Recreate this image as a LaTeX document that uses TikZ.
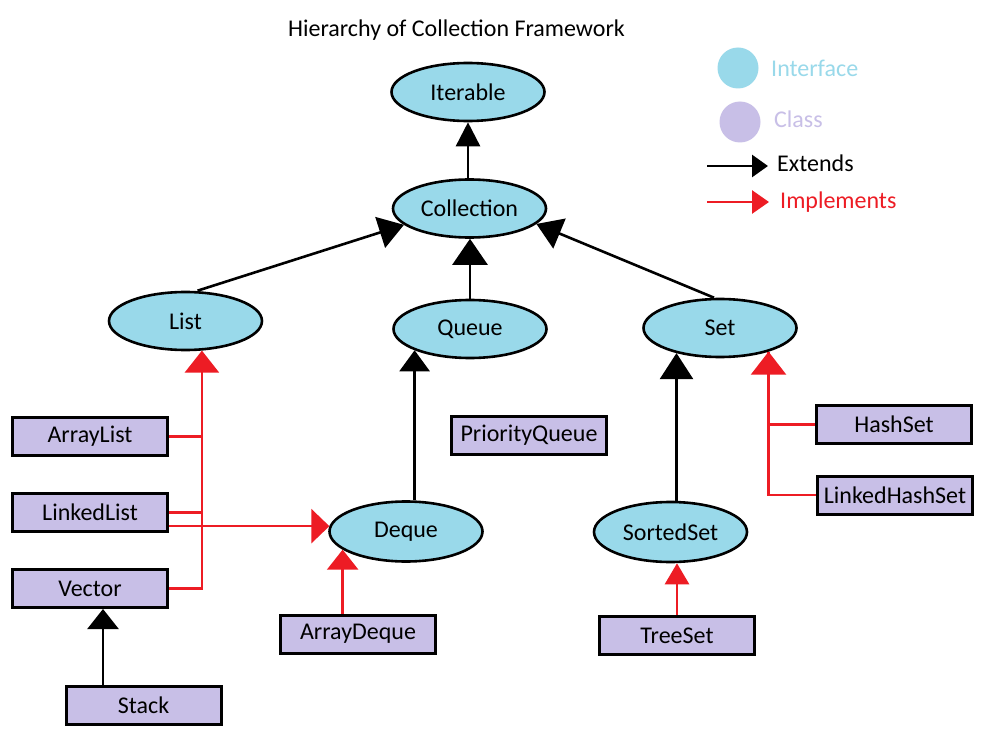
\documentclass[tikz,border=0pt]{standalone}
\usepackage{fontspec}
\setmainfont{Carlito}
\usetikzlibrary{shapes.geometric,arrows.meta,calc}
\definecolor{ifc}{HTML}{99D9EA}
\definecolor{cls}{HTML}{C8BFE7}
\definecolor{impred}{HTML}{ED1C24}
\begin{document}
\begin{tikzpicture}[x=1pt,y=-1pt, font=\fontsize{24}{28}\selectfont,
 iface/.style={ellipse, draw=black, line width=2.6pt, fill=ifc, minimum width=153pt, minimum height=58pt, inner sep=0pt},
 klass/.style={rectangle, draw=black, line width=3pt, fill=cls, minimum width=155pt, minimum height=38pt, inner sep=0pt},
 ext/.style={draw=black, line width=2.6pt, -{Triangle[length=22pt,width=32pt]}},
 imp/.style={draw=impred, line width=2.6pt, -{Triangle[length=22pt,width=32pt]}},
 impline/.style={draw=impred, line width=2.6pt},
 lgtext/.style={anchor=base west, inner sep=0pt},
]
\useasboundingbox (0,0) rectangle (1002,749);
\fill[white] (0,0) rectangle (1002,749);

% title
\node[anchor=base, inner sep=0pt] (title) at (456.5,37) {Hierarchy of Collection Framework};

% interfaces
\node[iface] (Iterable) at (468,92) {Iterable};
\node[iface] (Collection) at (469.5,208.5) {Collection};
\node[iface] (List) at (185.5,321) {List};
\node[iface] (Queue) at (470,329) {Queue};
\node[iface] (Set) at (720,328) {Set};
\node[iface, minimum height=60pt] (Deque) at (406,531.5) {Deque};
\node[iface, minimum height=60pt] (SortedSet) at (670.5,532) {SortedSet};

% classes
\node[klass] (ArrayList) at (90,436.5) {ArrayList};
\node[klass] (LinkedList) at (90,512.5) {LinkedList};
\node[klass] (Vector) at (90,588.5) {Vector};
\node[klass] (Stack) at (143.5,705) {Stack};
\node[klass] (ArrayDeque) at (358,634) {ArrayDeque};
\node[klass] (PriorityQueue) at (529,435) {PriorityQueue};
\node[klass] (TreeSet) at (677,635.5) {TreeSet};
\node[klass] (HashSet) at (894,424.5) {HashSet};
\node[klass] (LinkedHashSet) at (895,495) {LinkedHashSet};

% extends
\draw[ext,-{Triangle[length=24pt,width=24pt]}] (Collection.north -| Iterable.south) -- (Iterable.south);
\draw[ext,-{Triangle[length=25pt,width=32pt]}] ($(List.north)+(12,0)$) -- (Collection.194);
\draw[ext,-{Triangle[length=25pt,width=32pt]}] ($(Set.north)+(-6,0)$) -- (Collection.347);
\draw[ext,-{Triangle[length=26pt,width=35pt]}] (Queue.north) -- (Queue.north |- Collection.south);
\draw[ext,-{Triangle[length=21pt,width=30pt]}] (Queue.201 |- Deque.north) -- (Queue.201);
\draw[ext,-{Triangle[length=26pt,width=33pt]}] (Set.210 |- SortedSet.north) -- (Set.210);
\coordinate (vs) at ($(Vector.south)+(13,0)$);
\draw[ext,-{Triangle[length=20pt,width=31pt]}] (vs |- Stack.north) -- (vs);

% implements
\draw[impline] (ArrayList.east) -- (ArrayList.east -| List.299);
\draw[impline] (LinkedList.east) -- (LinkedList.east -| List.299);
\draw[imp,-{Triangle[length=22pt,width=34pt]}] (Vector.east) -| (List.299);
\draw[imp,-{Triangle[length=18pt,width=34pt]}] (LinkedList.east |- Deque.176) -- (Deque.176);
\draw[imp,-{Triangle[length=20pt,width=31pt]}] (Deque.196 |- ArrayDeque.north) -- (Deque.196);
\draw[impline] (HashSet.west) -| (Set.334);
\draw[imp,-{Triangle[length=23pt,width=35pt]}] (LinkedHashSet.west) -| (Set.334);
\draw[imp,-{Triangle[length=21pt,width=24pt]}] (TreeSet.north) -- (TreeSet.north |- SortedSet.south);

% legend
\node[circle, fill=ifc, minimum size=41pt, inner sep=0pt] (lgI) at (738,68) {};
\node[lgtext, text=ifc] (lgIt) at (771,77) {Interface};
\node[circle, fill=cls, minimum size=41pt, inner sep=0pt] (lgC) at (740,122) {};
\node[lgtext, text=cls] (lgCt) at (774,128) {Class};
\coordinate (le1) at (707,166);
\coordinate (le2) at (768,166);
\draw[line width=2.8pt, -{Triangle[length=16pt,width=22pt]}] (le1) -- (le2);
\node[lgtext] (lgE) at (777,172) {Extends};
\coordinate (li1) at (707,202);
\coordinate (li2) at (769,202);
\draw[draw=impred, line width=2.8pt, -{Triangle[length=17pt,width=23pt]}] (li1) -- (li2);
\node[lgtext, text=impred] (lgIm) at (780,208) {Implements};
\end{tikzpicture}
\end{document}
